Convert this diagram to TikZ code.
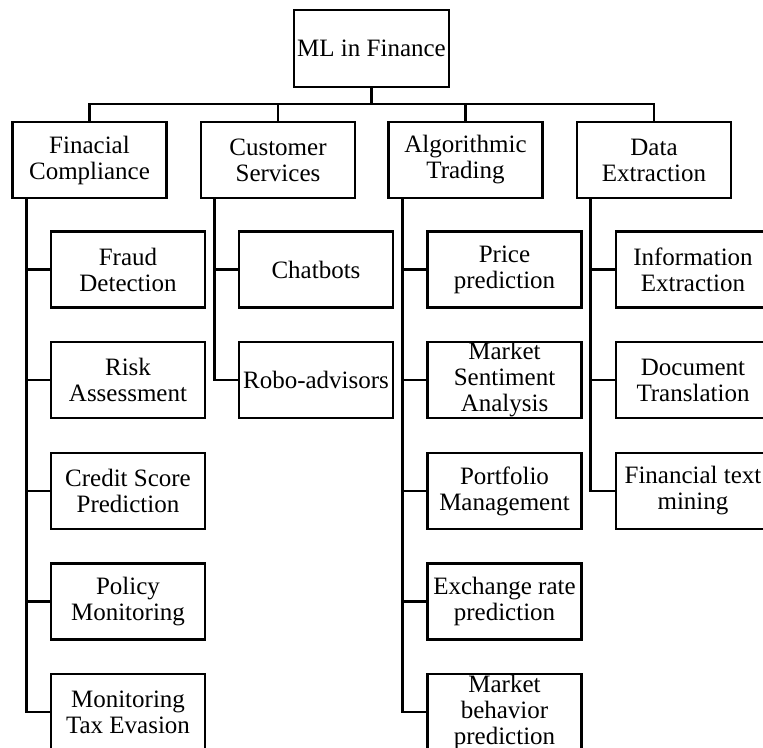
\documentclass[tikz,border=0pt]{standalone}
\usepackage{fontspec}
\setmainfont{Liberation Serif}
\begin{document}
\begin{tikzpicture}[x=1pt,y=-1pt,
  every node/.style={font=\fontsize{25}{26}\selectfont},
  bx/.style={draw,line width=2.6pt,minimum width=154pt,minimum height=76pt,inner sep=0pt,align=center},
  rootbx/.style={bx,minimum width=155pt,minimum height=77pt},
  ln/.style={line width=2.6pt}]
\clip (0,0) rectangle (763,747);
\fill[white] (0,0) rectangle (763,747);
% root
\node[rootbx] (root) at (371.5,48.5) {ML in Finance};
% level 1
\node[bx] (c1) at (89.5,160) {Finacial\\Compliance};
\node[bx] (c2) at (278,160) {Customer\\Services};
\node[bx] (c3) at (465.5,160) {Algorithmic\\Trading};
\node[bx] (c4) at (654,160) {Data\\Extraction};
% level 2: Financial Compliance
\node[bx] (a1) at (128,269.5) {Fraud\\Detection};
\node[bx] (a2) at (128,380) {Risk\\Assessment};
\node[bx] (a3) at (128,491) {Credit Score\\Prediction};
\node[bx] (a4) at (128,601.5) {Policy\\Monitoring};
\node[bx] (a5) at (128,712) {Monitoring\\Tax Evasion};
% Customer Services
\node[bx] (b1) at (316,269.5) {Chatbots};
\node[bx] (b2) at (316,380) {Robo-advisors};
% Algorithmic Trading
\node[bx] (t1) at (504.5,269.5) {Price\\prediction};
\node[bx] (t2) at (504.5,380) {Market\\Sentiment\\Analysis};
\node[bx] (t3) at (504.5,491) {Portfolio\\Management};
\node[bx] (t4) at (504.5,601.5) {Exchange rate\\prediction};
\node[bx] (t5) at (504.5,712) {Market\\behavior\\prediction};
% Data Extraction
\node[bx] (d1) at (693,269.5) {Information\\Extraction};
\node[bx] (d2) at (693,380) {Document\\Translation};
\node[bx] (d3) at (693,491) {Financial text\\mining};
% connectors root -> level 1
\foreach \c in {c1,c2,c3,c4}
  \draw[ln] (root.south) -- ++(0,15.5) -| (\c.north);
% trunks
\foreach \p/\k in {c1/a1,c1/a2,c1/a3,c1/a4,c1/a5,c2/b1,c2/b2,c3/t1,c3/t2,c3/t3,c3/t4,c3/t5,c4/d1,c4/d2,c4/d3}
  \draw[ln] ([xshift=15pt]\p.south west) |- (\k.west);
\end{tikzpicture}
\end{document}
